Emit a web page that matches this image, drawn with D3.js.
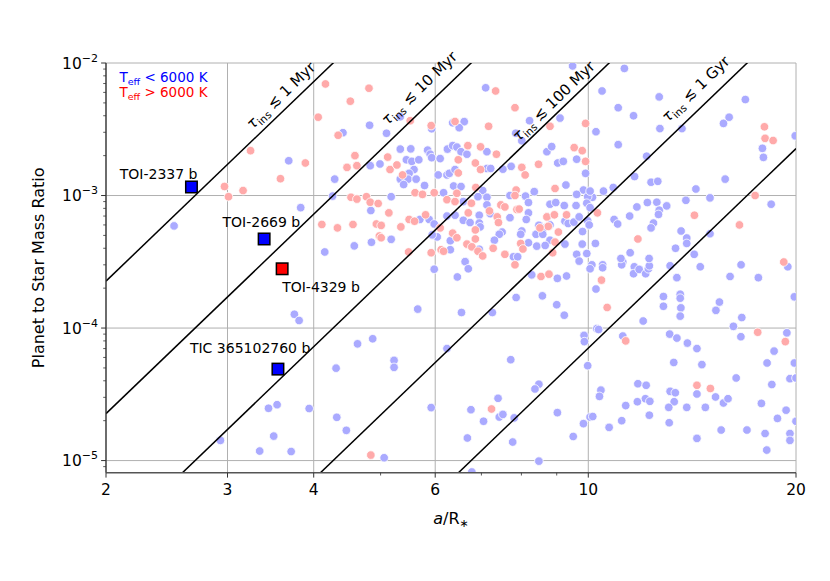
<!DOCTYPE html>
<html>
<head>
<meta charset="utf-8">
<script src="https://cdn.jsdelivr.net/npm/d3@7"></script>
<style>
    body { margin: 0; background: #fff; }
    svg { font-family: 'DejaVu Sans', sans-serif; }
</style>
</head>
<body>
<div id="chart"></div>
<script>
'use strict';

// planets around stars with Teff < 6000 K, [a/R*, Mp/M*]
var coolPlanets = [
    [2.51,5.9e-4],[3.68,1.83e-3],[3.83,8.1e-4],[3.75,1.27e-4],[3.81,1.14e-4],[3.44,2.48e-5],[3.54,2.64e-5],
    [3.94,2.47e-5],[3.50,1.53e-5],[2.93,1.42e-5],[3.34,1.18e-5],[3.71,1.17e-5],[4.31,4.98e-5],[4.63,7.6e-5],
    [4.87,8.3e-5],[5.23,5.7e-5],[5.23,5.05e-5],[5.66,1.39e-4],[5.98,2.78e-4],[6.24,7.0e-5],[4.32,2.12e-5],
    [4.46,1.69e-5],[5.92,2.51e-5],[5.06,1.05e-5],[4.15,3.75e-4],[4.58,4.17e-4],[4.85,4.44e-4],[5.18,4.67e-4],
    [4.84,7.7e-4],[5.18,9.8e-4],[4.26,9.9e-4],[4.29,1.33e-3],[4.41,2.98e-3],[4.82,3.39e-3],[5.10,2.95e-3],
    [5.34,3.93e-3],[5.93,3.19e-3],[5.34,2.24e-3],[5.53,2.25e-3],[5.85,2.2e-3],[5.90,2.05e-3],[5.93,1.93e-3],
    [6.25,2.24e-3],[5.45,1.86e-3],[5.55,1.81e-3],[5.68,1.86e-3],[6.10,1.9e-3],[4.83,1.68e-3],[4.99,1.73e-3],
    [5.59,1.57e-3],[5.50,1.47e-3],[5.34,1.33e-3],[5.48,1.33e-3],[5.40,1.21e-3],[5.63,1.33e-3],[5.79,1.19e-3],
    [6.06,1.43e-3],[6.24,1.43e-3],[5.70,6.6e-4],[5.88,6.6e-4],[5.98,6.1e-4],[6.24,7.0e-4],[6.04,4.87e-4],
    [5.94,5.05e-4],[6.31,4.56e-4],[7.10,6.5e-3],[6.36,3.54e-3],[6.61,3.61e-3],[6.50,3.25e-3],[7.85,2.95e-3],
    [8.01,2.59e-3],[8.22,3.67e-3],[9.10,3.84e-3],[10.26,3.03e-3],[9.49,9.5e-3],[6.36,2.38e-3],[6.45,2.32e-3],
    [6.54,2.14e-3],[6.67,2.05e-3],[7.13,2.14e-3],[8.71,2.14e-3],[8.85,2.34e-3],[9.03,1.76e-3],[9.20,1.81e-3],
    [9.62,1.88e-3],[9.91,1.47e-3],[7.73,1.66e-3],[7.52,1.58e-3],[6.29,1.47e-3],[6.41,1.57e-3],[7.13,1.6e-3],
    [7.22,1.6e-3],[6.38,1.18e-3],[6.54,1.17e-3],[7.03,1.09e-3],[9.28,1.2e-3],[9.84,1.1e-3],[6.17,1.05e-3],
    [6.92,9.8e-4],[7.70,1.0e-3],[8.11,9.9e-4],[10.14,9.7e-4],[7.13,9.7e-4],[8.35,1.07e-3],[9.62,1.02e-3],
    [9.98,9.8e-4],[6.59,9.0e-4],[7.13,8.5e-4],[8.19,8.85e-4],[8.19,7.4e-4],[8.80,8.6e-4],[8.97,8.85e-4],
    [9.23,8.4e-4],[9.60,8.4e-4],[9.95,8.75e-4],[10.06,8.1e-4],[7.21,7.3e-4],[6.95,7.1e-4],[6.41,7.1e-4],
    [6.59,6.5e-4],[6.74,6.25e-4],[6.95,6.2e-4],[6.97,5.8e-4],[7.70,6.8e-4],[8.13,6.6e-4],[8.72,6.9e-4],
    [8.48,5.96e-4],[8.59,5.65e-4],[8.80,6.0e-4],[9.25,6.4e-4],[9.35,6.15e-4],[9.53,6.3e-4],[9.70,6.9e-4],
    [9.98,6.45e-4],[10.03,6.0e-4],[9.81,5.35e-4],[7.50,5.3e-4],[7.43,5.1e-4],[7.31,4.6e-4],[8.01,5.4e-4],
    [7.98,5.1e-4],[8.40,5.1e-4],[8.59,5.1e-4],[8.80,4.6e-4],[8.19,4.4e-4],[8.42,4.15e-4],[8.66,4.2e-4],
    [9.25,4.3e-4],[9.80,4.3e-4],[10.24,4.35e-4],[6.31,3.9e-4],[6.95,3.93e-4],[7.79,3.45e-4],[7.90,3.45e-4],
    [9.62,3.6e-4],[9.70,3.2e-4],[9.95,3.65e-4],[6.63,3.17e-4],[6.70,2.8e-4],[6.46,2.43e-4],[8.28,2.52e-4],
    [9.02,2.37e-4],[9.30,2.47e-4],[10.12,3.0e-4],[10.06,2.8e-4],[10.26,1.97e-4],[7.86,1.7e-4],[8.58,1.75e-4],
    [9.00,1.5e-4],[9.23,1.25e-4],[6.55,1.31e-4],[7.26,1.31e-4],[10.29,9.9e-5],[10.49,3.0e-4],[10.49,2.85e-4],
    [11.22,3.15e-4],[11.18,3.0e-4],[11.66,2.9e-4],[11.63,2.57e-4],[11.85,2.77e-4],[12.11,2.57e-4],[12.22,2.8e-4],
    [12.26,2.95e-4],[13.14,2.95e-4],[13.44,2.4e-4],[14.53,2.9e-4],[16.65,3.0e-4],[16.05,2.45e-4],[17.64,2.4e-4],
    [19.46,2.9e-4],[19.89,1.72e-4],[12.85,1.73e-4],[12.85,1.46e-4],[13.59,1.8e-4],[13.59,1.68e-4],[13.62,1.42e-4],
    [13.59,1.23e-4],[12.01,1.13e-4],[15.49,1.57e-4],[15.31,1.36e-4],[16.23,1.03e-4],[16.69,1.2e-4],[10.35,9.75e-5],
    [9.86,8.8e-5],[9.87,7.9e-5],[9.98,5.2e-5],[11.22,8.7e-5],[13.12,9.0e-5],[13.44,8.4e-5],[13.92,7.7e-5],
    [14.37,7.0e-5],[13.30,5.5e-5],[14.61,5.3e-5],[16.38,4.2e-5],[16.64,8.6e-5],[18.59,6.7e-5],[19.40,9.2e-5],
    [18.16,5.45e-5],[19.89,5.45e-5],[19.60,4.15e-5],[20.0,4.2e-5],[18.45,3.75e-5],[7.72,5.77e-5],[8.48,3.77e-5],
    [8.37,3.47e-5],[7.40,2.95e-5],[7.43,2.13e-5],[7.52,2.23e-5],[7.81,2.1e-5],[6.76,2.42e-5],[7.05,1.98e-5],
    [6.68,1.48e-5],[7.77,1.38e-5],[9.02,2.3e-5],[10.43,3.4e-5],[10.38,3.05e-5],[11.80,3.8e-5],[12.13,3.7e-5],
    [12.10,2.93e-5],[12.28,2.8e-5],[11.33,2.6e-5],[11.78,2.78e-5],[12.26,2.2e-5],[13.14,3.33e-5],[13.37,3.25e-5],
    [13.32,2.78e-5],[13.08,2.52e-5],[13.89,2.52e-5],[14.37,3.18e-5],[15.29,3.02e-5],[14.78,2.52e-5],[15.70,2.72e-5],
    [15.94,2.93e-5],[17.82,2.7e-5],[19.35,2.4e-5],[10.06,2.13e-5],[10.15,2.15e-5],[9.84,1.9e-5],[11.18,2.0e-5],
    [10.72,1.78e-5],[9.51,1.52e-5],[13.10,1.93e-5],[14.37,1.47e-5],[15.58,1.7e-5],[16.98,1.7e-5],[18.04,1.6e-5],
    [18.14,1.2e-5],[18.80,2.08e-5],[19.60,1.6e-5],[19.60,1.42e-5],[20.0,1.98e-5],[8.48,9.9e-6],[6.78,8.2e-6],
    [11.28,9.1e-3],[10.47,6.15e-3],[11.05,4.6e-3],[12.67,5.55e-3],[11.63,4.0e-3],[16.89,5.3e-3],[12.70,3.2e-3],
    [13.67,3.2e-3],[15.70,3.5e-3],[16.0,3.9e-3],[19.95,2.82e-3],[11.05,2.42e-3],[17.88,2.27e-3],[17.94,1.94e-3],
    [12.15,1.98e-3],[11.67,1.39e-3],[12.33,1.26e-3],[12.61,1.28e-3],[15.79,1.33e-3],[14.32,1.12e-3],[15.01,9.6e-4],
    [13.85,9.2e-4],[10.52,1.08e-3],[10.87,1.15e-3],[10.06,1.08e-3],[11.76,8.2e-4],[12.18,8.85e-4],[12.57,8.9e-4],
    [12.67,7.75e-4],[12.64,7.2e-4],[12.99,8.35e-4],[11.48,7.0e-4],[10.90,6.6e-4],[11.03,6.1e-4],[12.43,6.2e-4],
    [12.33,5.7e-4],[13.63,5.4e-4],[13.89,4.78e-4],[13.89,4.35e-4],[15.01,5.15e-4],[18.41,8.6e-4],[11.50,3.7e-4],
    [11.15,3.35e-4],[12.25,3.35e-4],[13.38,4.0e-4],[14.24,3.6e-4]
];

// planets around stars with Teff > 6000 K
var hotPlanets = [
    [4.16,6.95e-3],[4.81,6.45e-3],[4.52,5.15e-3],[4.06,3.9e-3],[4.34,2.85e-3],[5.52,3.67e-3],[5.92,3.37e-3],
    [3.89,1.76e-3],[4.59,2.0e-3],[4.47,1.63e-3],[4.62,1.68e-3],[5.12,1.95e-3],[5.16,1.57e-3],[5.28,1.7e-3],
    [5.38,1.43e-3],[4.53,9.7e-4],[4.62,9.4e-4],[4.77,9.8e-4],[4.83,8.9e-4],[4.96,8.7e-4],[5.14,7.4e-4],
    [5.61,1.05e-3],[5.75,1.02e-3],[5.98,1.05e-3],[6.24,9.3e-4],[4.11,6.05e-4],[4.33,5.7e-4],[4.56,6.05e-4],
    [4.93,6.1e-4],[5.01,5.95e-4],[5.35,5.8e-4],[5.50,6.6e-4],[5.60,6.4e-4],[5.81,7.15e-4],[6.10,5.7e-4],
    [4.98,4.95e-4],[5.01,4.8e-4],[5.49,3.75e-4],[5.92,3.7e-4],[6.12,3.9e-4],[6.17,3.8e-4],[3.24,2.18e-3],
    [3.58,1.34e-3],[2.97,1.17e-3],[3.01,9.8e-4],[3.16,1.09e-3],[4.84,1.1e-5],[7.34,6.15e-3],[7.83,4.6e-3],
    [6.41,3.62e-3],[7.17,3.33e-3],[8.80,3.33e-3],[9.91,3.5e-3],[6.69,2.38e-3],[6.98,2.33e-3],[7.36,2.05e-3],
    [8.01,1.63e-3],[9.54,2.3e-3],[9.80,2.18e-3],[8.47,1.72e-3],[8.10,1.43e-3],[9.91,1.81e-3],[6.48,1.86e-3],
    [6.86,1.76e-3],[6.48,1.48e-3],[6.98,1.57e-3],[6.87,1.15e-3],[8.95,1.13e-3],[7.86,1.1e-3],[6.41,9.0e-4],
    [6.45,1.04e-3],[6.77,8.75e-4],[6.70,7.4e-4],[7.19,7.65e-4],[7.38,6.9e-4],[7.41,6.25e-4],[7.47,8.5e-4],
    [7.57,8.2e-4],[7.83,1.0e-3],[7.88,7.85e-4],[7.94,7.9e-4],[8.71,6.9e-4],[8.93,7.15e-4],[9.30,7.15e-4],
    [8.75,5.85e-4],[9.05,5.3e-4],[8.51,5.7e-4],[6.36,5.2e-4],[6.45,4.8e-4],[6.86,5.5e-4],[6.86,4.7e-4],
    [6.67,4.3e-4],[6.78,4.1e-4],[6.92,3.8e-4],[7.03,3.5e-4],[7.28,4.0e-4],[7.57,3.6e-4],[7.98,4.35e-4],
    [8.04,3.95e-4],[7.83,3.0e-4],[8.95,4.45e-4],[8.88,3.7e-4],[8.54,2.45e-4],[8.77,2.55e-4],[10.45,2.3e-4],
    [10.65,1.43e-4],[11.33,8.0e-5],[17.60,9.3e-5],[19.30,7.9e-5],[14.37,3.7e-5],[15.03,3.5e-5],[7.24,2.45e-5],
    [19.20,3.15e-4],[10.31,7.4e-4],[11.80,4.7e-4],[14.25,7.1e-4],[16.56,6.0e-4],[17.45,1.0e-3],[18.0,3.3e-3],
    [18.04,2.7e-3],[18.53,2.6e-3]
];

var namedPlanets = [
    {name: 'TOI-2337 b', a: 2.66, q: 1.16e-3, hot: false},
    {name: 'TOI-2669 b', a: 3.39, q: 4.7e-4, hot: false},
    {name: 'TOI-4329 b', a: 3.60, q: 2.8e-4, hot: true},
    {name: 'TIC 365102760 b', a: 3.55, q: 4.9e-5, hot: false}
];

// inspiral timescale lines (Myr) and their labels
var timescales = [1, 10, 100, 1000, 10000];
var timescaleLabels = ['1 Myr', '10 Myr', '100 Myr', '1 Gyr', ''];
var qAt2For1Myr = 2.26e-4;   // q on the 1 Myr line at a/R* = 2
var lineSlope = 5;           // q scales as (a/R*)^5 along a line

var xTicks = [2, 3, 4, 6, 10, 20];
var xMinorTicks = [5, 7, 8, 9];
var yTicks = [1e-5, 1e-4, 1e-3, 1e-2];
var yExponents = ['\u22125', '\u22124', '\u22123', '\u22122'];

var chartModule = (function() {

    var width = 830,
        height = 581;

    var left = 106, right = 796, top = 63, bottom = 472.7;

    var svg = d3.select('#chart').append('svg')
        .attr('width', width)
        .attr('height', height);

    var x = d3.scaleLog().domain([2, 20]).range([left, right]);
    var y = d3.scaleLog().domain([8.1e-6, 1e-2]).range([bottom, top]);

    // where the line labels sit: a/R* of the foot point and offset in px
    var labelPlaces = [{a: 3.32, d: 7.7}, {a: 5.27, d: 12.6}, {a: 8.03, d: 5.9}, {a: 13.4, d: 11.8}];
    // offsets of the planet names from their squares
    var namePlaces = [
        {dx: 6, dy: -7.5, anchor: 'end'},
        {dx: -41.6, dy: -12.3, anchor: 'start'},
        {dx: 0, dy: 23.4, anchor: 'start'},
        {dx: -88, dy: -16, anchor: 'start'}
    ];

    function lineQ(a, tau) {
        return qAt2For1Myr * Math.pow(a / 2, lineSlope) / tau;
    }

    var init = function() {
        svg.append('defs').append('clipPath').attr('id', 'plotclip')
            .append('rect')
            .attr('x', left).attr('y', top)
            .attr('width', right - left).attr('height', bottom - top);

        // grid
        var grid = svg.append('g');
        grid.selectAll('.vg').data(xTicks).enter().append('line')
            .attr('x1', function(d) { return x(d); })
            .attr('x2', function(d) { return x(d); })
            .attr('y1', top).attr('y2', bottom)
            .attr('stroke', '#b0b0b0').attr('stroke-width', 1);
        grid.selectAll('.hg').data(yTicks).enter().append('line')
            .attr('y1', function(d) { return y(d); })
            .attr('y2', function(d) { return y(d); })
            .attr('x1', left).attr('x2', right)
            .attr('stroke', '#b0b0b0').attr('stroke-width', 1);

        var plot = svg.append('g').attr('clip-path', 'url(#plotclip)');

        plot.selectAll('.cool').data(coolPlanets).enter().append('circle')
            .attr('cx', function(d) { return x(d[0]); })
            .attr('cy', function(d) { return y(d[1]); })
            .attr('r', 4.3)
            .attr('fill', '#aaaaff')
            .attr('stroke', '#fff')
            .attr('stroke-width', 0.8);

        plot.selectAll('.hot').data(hotPlanets).enter().append('circle')
            .attr('cx', function(d) { return x(d[0]); })
            .attr('cy', function(d) { return y(d[1]); })
            .attr('r', 4.3)
            .attr('fill', '#ffaaaa')
            .attr('stroke', '#fff')
            .attr('stroke-width', 0.8);

        plot.selectAll('.tline').data(timescales).enter().append('line')
            .attr('x1', x(2)).attr('x2', x(20))
            .attr('y1', function(d) { return y(lineQ(2, d)); })
            .attr('y2', function(d) { return y(lineQ(20, d)); })
            .attr('stroke', '#000').attr('stroke-width', 1.5);

        // line labels
        labelPlaces.forEach(function(p, i) {
            var tau = timescales[i];
            var x0 = x(p.a), y0 = y(lineQ(p.a, tau));
            var x1 = x(p.a * 1.1), y1 = y(lineQ(p.a * 1.1, tau));
            var ang = Math.atan2(y1 - y0, x1 - x0);
            var sx = x0 + p.d * Math.sin(ang),
                sy = y0 - p.d * Math.cos(ang);
            var t = svg.append('text')
                .attr('transform', 'translate(' + sx + ',' + sy + ') rotate(' + (ang * 180 / Math.PI) + ')')
                .attr('font-size', '15px')
                .attr('fill', '#000');
            t.append('tspan').attr('font-style', 'italic').text('\u03c4');
            t.append('tspan').attr('font-size', '10.5px').attr('dy', 3.5).text('ins');
            t.append('tspan').attr('dy', -3.5).text(' \u2272 ' + timescaleLabels[i]);
        });

        // named planets
        svg.selectAll('.named').data(namedPlanets).enter().append('rect')
            .attr('x', function(d) { return x(d.a) - 5.75; })
            .attr('y', function(d) { return y(d.q) - 5.75; })
            .attr('width', 11.5).attr('height', 11.5)
            .attr('fill', function(d) { return d.hot ? '#ff0000' : '#0000ff'; })
            .attr('stroke', '#000').attr('stroke-width', 1.5);

        svg.selectAll('.nlabel').data(namedPlanets).enter().append('text')
            .attr('x', function(d, i) { return x(d.a) + namePlaces[i].dx; })
            .attr('y', function(d, i) { return y(d.q) + namePlaces[i].dy; })
            .attr('text-anchor', function(d, i) { return namePlaces[i].anchor; })
            .attr('font-size', '14px')
            .attr('fill', '#000')
            .text(function(d) { return d.name; });

        // legend, two stacked coloured lines
        [{c: '#0000ff', s: '<'}, {c: '#ff0000', s: '>'}].forEach(function(l, i) {
            var t = svg.append('text')
                .attr('x', 119.5).attr('y', 82 + i * 15)
                .attr('font-size', '13.5px')
                .attr('fill', l.c);
            t.append('tspan').text('T');
            t.append('tspan').attr('font-size', '9.5px').attr('dy', 2.5).text('eff');
            t.append('tspan').attr('dy', -2.5).text(' ' + l.s + ' 6000 K');
        });

        // spines
        svg.append('line').attr('x1', left).attr('x2', left).attr('y1', top).attr('y2', bottom)
            .attr('stroke', '#333').attr('stroke-width', 1.3);
        svg.append('line').attr('x1', left).attr('x2', right).attr('y1', bottom).attr('y2', bottom)
            .attr('stroke', '#555').attr('stroke-width', 1.5);

        // x ticks
        svg.selectAll('.xt').data(xTicks).enter().append('line')
            .attr('x1', function(d) { return x(d); }).attr('x2', function(d) { return x(d); })
            .attr('y1', bottom).attr('y2', bottom + 4.9)
            .attr('stroke', '#333').attr('stroke-width', 1);
        svg.selectAll('.xmt').data(xMinorTicks).enter().append('line')
            .attr('x1', function(d) { return x(d); }).attr('x2', function(d) { return x(d); })
            .attr('y1', bottom).attr('y2', bottom + 2.8)
            .attr('stroke', '#333').attr('stroke-width', 0.8);
        svg.selectAll('.xl').data(xTicks).enter().append('text')
            .attr('x', function(d) { return x(d); })
            .attr('y', 494.5)
            .attr('text-anchor', 'middle')
            .attr('font-size', '15.5px')
            .text(function(d) { return d; });

        // y ticks
        var yMinor = y.ticks().filter(function(d) {
            return yTicks.indexOf(d) < 0 && Math.abs(Math.log10(d) - Math.round(Math.log10(d))) > 1e-6;
        });
        svg.selectAll('.yt').data(yTicks).enter().append('line')
            .attr('y1', function(d) { return y(d); }).attr('y2', function(d) { return y(d); })
            .attr('x1', left - 4.9).attr('x2', left)
            .attr('stroke', '#333').attr('stroke-width', 1);
        svg.selectAll('.ymt').data(yMinor).enter().append('line')
            .attr('y1', function(d) { return y(d); }).attr('y2', function(d) { return y(d); })
            .attr('x1', left - 2.8).attr('x2', left)
            .attr('stroke', '#333').attr('stroke-width', 0.8);
        var yl = svg.selectAll('.yl').data(yTicks).enter().append('text')
            .attr('x', 98)
            .attr('y', function(d) { return y(d) + 5.5; })
            .attr('text-anchor', 'end')
            .attr('font-size', '15.5px');
        yl.append('tspan').text('10');
        yl.append('tspan').attr('font-size', '11px').attr('dy', -7)
            .text(function(d, i) { return yExponents[i]; });

        // axis labels
        var xl = svg.append('text')
            .attr('x', (left + right) / 2).attr('y', 524)
            .attr('text-anchor', 'middle')
            .attr('font-size', '16px');
        xl.append('tspan').attr('font-style', 'italic').text('a');
        xl.append('tspan').text('/R');
        xl.append('tspan').attr('font-size', '11px').attr('dy', 3).text('\u2217');

        svg.append('text')
            .attr('transform', 'translate(44,' + ((top + bottom) / 2) + ') rotate(-90)')
            .attr('text-anchor', 'middle')
            .attr('font-size', '16px')
            .text('Planet to Star Mass Ratio');
    };

    return {
        init: init
    };
})();

chartModule.init();
</script>
</body>
</html>
